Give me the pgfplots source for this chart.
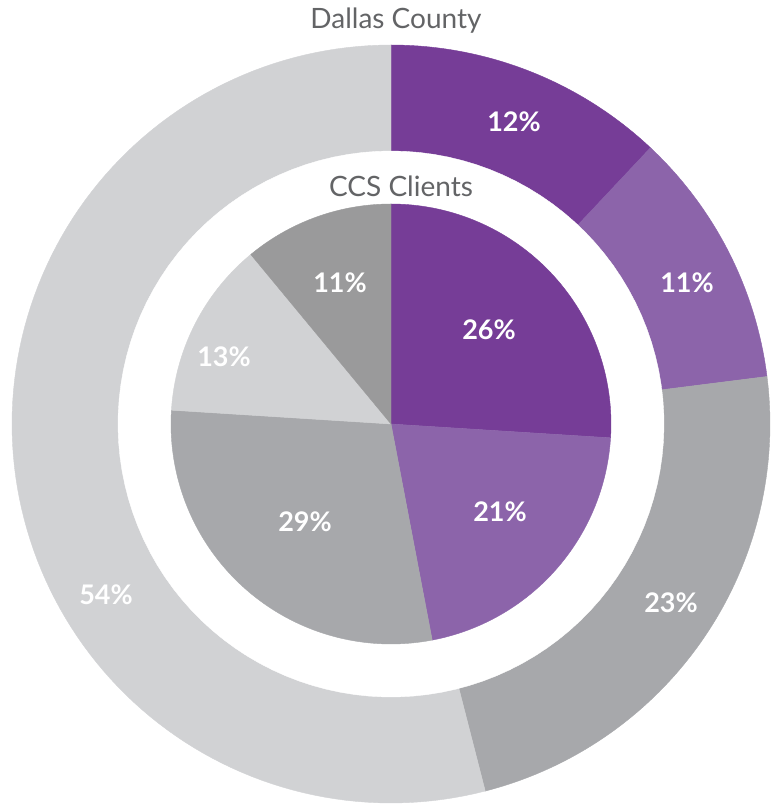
\documentclass[border=0pt]{standalone}
\usepackage{pgfplots}
\pgfplotsset{compat=1.18}
\usepackage{fontspec}
\setmainfont{Lato}
\definecolor{dpurple}{HTML}{763D97}
\definecolor{lpurple}{HTML}{8C64AA}
\definecolor{mgray}{HTML}{A7A8AB}
\definecolor{lgray}{HTML}{D1D2D4}
\definecolor{dgray}{HTML}{9A9A9B}
\definecolor{txtgray}{HTML}{636466}
% \slice{start percent}{value percent}{radius}{colour}
\newcommand{\slice}[4]{%
  \addplot[fill=#4, draw=#4, line width=0.4pt, domain={90-3.6*(#1+#2)}:{90-3.6*#1}, samples=120, variable=\t]
    ({#3*cos(\t)},{#3*sin(\t)}) -- (axis cs:0,0) -- cycle;}
\begin{document}
\begin{tikzpicture}
\begin{axis}[x=1pt, y=1pt, xmin=-391, xmax=381, ymin=-381, ymax=424,
  hide axis, clip=false, scale only axis]
\addplot[draw=none] coordinates {(-391,-381) (381,424)};
% Dallas County (outer ring): 12, 11, 23, 54
\slice{0}{12}{379}{dpurple}
\slice{12}{11}{379}{lpurple}
\slice{23}{23}{379}{mgray}
\slice{46}{54}{379}{lgray}
\slice{0}{100}{273}{white}
% CCS Clients (inner pie): 26, 21, 29, 13, 11
\slice{0}{26}{220}{dpurple}
\slice{26}{21}{220}{lpurple}
\slice{47}{29}{220}{mgray}
\slice{76}{13}{220}{lgray}
\slice{89}{11}{220}{dgray}
\node[text=txtgray, font=\fontsize{28}{31}\selectfont] at (axis cs:5,403) {Dallas County};
\node[text=txtgray, font=\fontsize{28}{31}\selectfont] at (axis cs:10,238) {CCS Clients};
\begin{scope}[every node/.style={text=white, font=\bfseries\fontsize{27}{30}\selectfont}]
\node at (axis cs:123,302) {12\%};
\node at (axis cs:296,141) {11\%};
\node at (axis cs:280,-179) {23\%};
\node at (axis cs:-285,-171) {54\%};
\node at (axis cs:98,94) {26\%};
\node at (axis cs:109,-88) {21\%};
\node at (axis cs:-86,-98) {29\%};
\node at (axis cs:-167,67) {13\%};
\node at (axis cs:-51,141) {11\%};
\end{scope}
\end{axis}
\end{tikzpicture}
\end{document}
